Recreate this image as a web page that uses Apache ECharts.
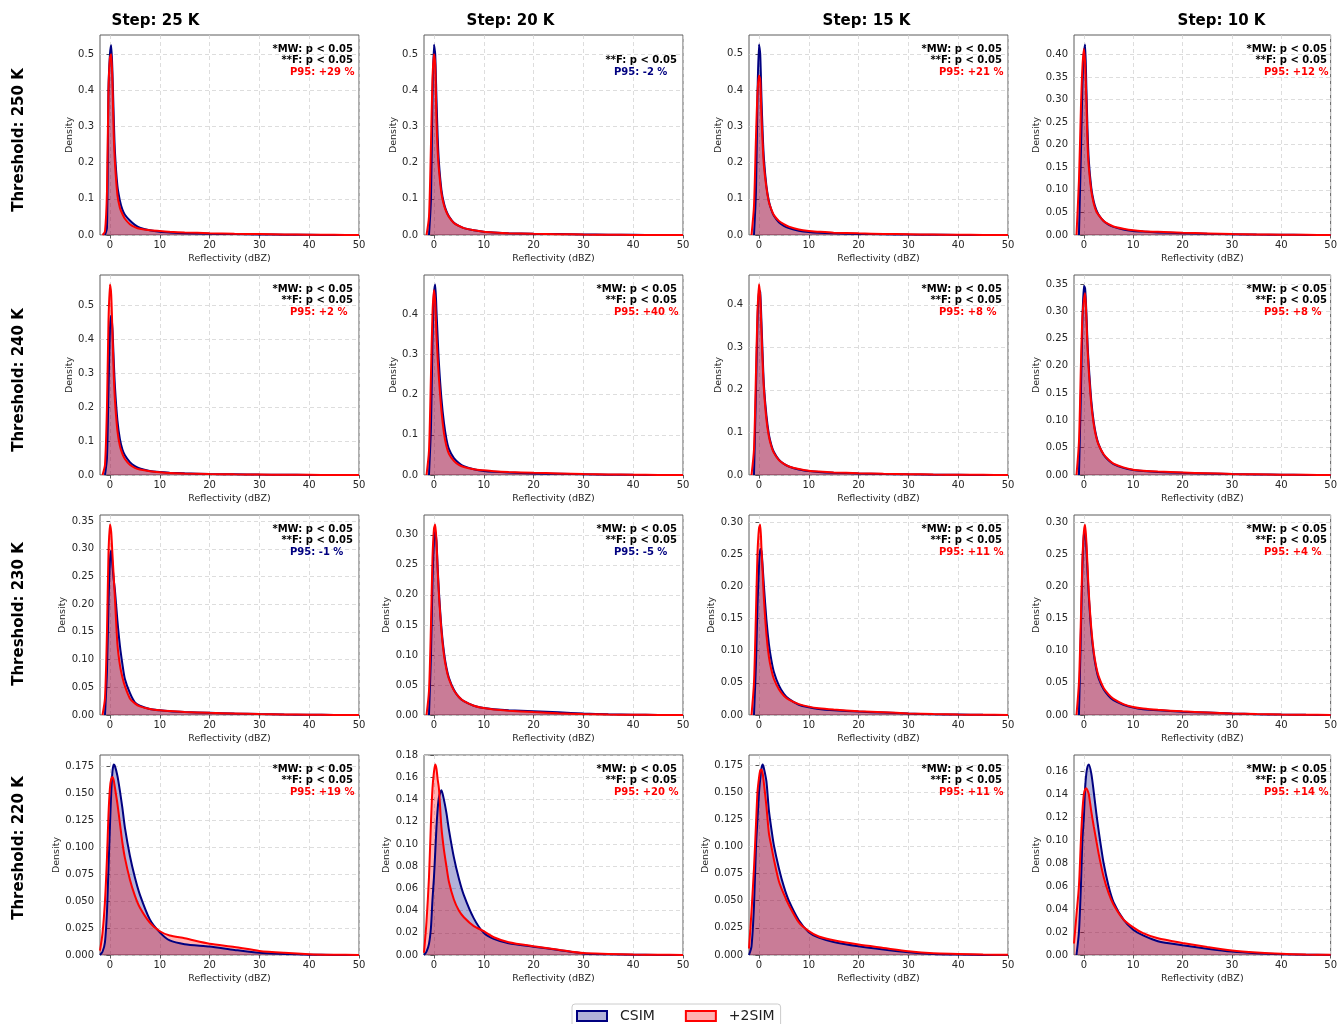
<!DOCTYPE html>
<html>
<head>
<meta charset="utf-8">
<script src="https://cdn.jsdelivr.net/npm/echarts@6/dist/echarts.min.js"></script>
<style>
  html, body { margin: 0; padding: 0; background: #ffffff; }
  #chart { width: 1340px; height: 1024px; }
</style>
</head>
<body>
<div id="chart"></div>
<script>
// Reflectivity sample points (dBZ) shared by every density curve
const reflectivity = [-2, -1.5, -1, -0.6, -0.3, 0, 0.25, 0.5, 0.75, 1, 1.5, 2, 2.5, 3, 4, 5, 6, 8, 10, 12, 15, 20, 25, 30, 35, 40, 45, 50];

const stepTitles = ['Step: 25 K', 'Step: 20 K', 'Step: 15 K', 'Step: 10 K'];
const thresholdTitles = ['Threshold: 250 K', 'Threshold: 240 K', 'Threshold: 230 K', 'Threshold: 220 K'];
const seriesNames = ['CSIM', '+2SIM'];
const xTicks = [0, 10, 20, 30, 40, 50];

// Threshold 250 K
const csim_250_25 = [null, null, 0, 0.02, 0.40, 0.50, 0.525, 0.45, 0.33, 0.23, 0.135, 0.095, 0.07, 0.056, 0.04, 0.028, 0.02, 0.013, 0.009, 0.007, 0.005, 0.0035, 0.0025, 0.0015, 0.0008, 0.0004, 0.0002, 0.0001];
const sim2_250_25 = [null, 0, 0.01, 0.12, 0.40, 0.49, 0.50, 0.42, 0.28, 0.20, 0.11, 0.075, 0.058, 0.045, 0.03, 0.022, 0.017, 0.013, 0.011, 0.009, 0.007, 0.005, 0.0035, 0.0025, 0.0015, 0.0008, 0.0004, 0.0002];
const csim_250_20 = [null, null, 0, 0.1, 0.38, 0.526, 0.50, 0.38, 0.27, 0.2, 0.125, 0.088, 0.066, 0.052, 0.034, 0.025, 0.019, 0.013, 0.009, 0.007, 0.005, 0.0035, 0.0025, 0.0015, 0.0008, 0.0004, 0.0002, 0.0001];
const sim2_250_20 = [null, 0, 0.05, 0.25, 0.43, 0.50, 0.47, 0.32, 0.23, 0.18, 0.115, 0.083, 0.063, 0.05, 0.033, 0.025, 0.019, 0.013, 0.009, 0.007, 0.005, 0.0034, 0.0024, 0.0014, 0.0007, 0.0003, 0.0001, 0.0001];
const csim_250_15 = [null, null, 0, 0.12, 0.38, 0.526, 0.5, 0.38, 0.28, 0.21, 0.135, 0.093, 0.069, 0.053, 0.035, 0.025, 0.019, 0.012, 0.008, 0.006, 0.0045, 0.003, 0.002, 0.0012, 0.0006, 0.0003, 0.0001, 0];
const sim2_250_15 = [null, 0, 0.08, 0.27, 0.39, 0.44, 0.43, 0.33, 0.25, 0.19, 0.13, 0.09, 0.07, 0.055, 0.039, 0.03, 0.023, 0.015, 0.011, 0.009, 0.0065, 0.0045, 0.003, 0.002, 0.0012, 0.0006, 0.0003, 0.0001];
const csim_250_10 = [null, null, 0, 0.18, 0.33, 0.40, 0.422, 0.33, 0.23, 0.165, 0.105, 0.074, 0.056, 0.045, 0.031, 0.023, 0.018, 0.012, 0.009, 0.0075, 0.0058, 0.004, 0.0028, 0.0018, 0.001, 0.0005, 0.0002, 0.0001];
const sim2_250_10 = [null, 0, 0.12, 0.28, 0.37, 0.412, 0.38, 0.3, 0.2, 0.15, 0.098, 0.07, 0.053, 0.044, 0.031, 0.024, 0.019, 0.014, 0.0104, 0.0085, 0.007, 0.005, 0.0035, 0.0022, 0.0013, 0.0007, 0.0003, 0.0001];

// Threshold 240 K
const csim_240_25 = [null, null, 0, 0.05, 0.25, 0.43, 0.47, 0.43, 0.34, 0.26, 0.16, 0.105, 0.075, 0.058, 0.038, 0.026, 0.019, 0.012, 0.0085, 0.0065, 0.0048, 0.003, 0.002, 0.0012, 0.0007, 0.0003, 0.0001, 0];
const sim2_240_25 = [null, 0, 0.03, 0.2, 0.45, 0.56, 0.53, 0.42, 0.3, 0.22, 0.13, 0.085, 0.062, 0.047, 0.03, 0.021, 0.016, 0.011, 0.008, 0.006, 0.0045, 0.003, 0.002, 0.0013, 0.0008, 0.0004, 0.0002, 0.0001];
const csim_240_20 = [null, null, 0, 0.12, 0.33, 0.45, 0.474, 0.41, 0.34, 0.277, 0.19, 0.13, 0.09, 0.065, 0.042, 0.03, 0.022, 0.0145, 0.01, 0.0078, 0.006, 0.004, 0.0028, 0.0017, 0.0009, 0.0004, 0.0002, 0.0001];
const sim2_240_20 = [null, 0, 0.06, 0.25, 0.4, 0.46, 0.43, 0.35, 0.29, 0.24, 0.16, 0.105, 0.072, 0.053, 0.035, 0.025, 0.02, 0.0145, 0.0117, 0.0095, 0.0075, 0.0055, 0.004, 0.0025, 0.0014, 0.0007, 0.0003, 0.0001];
const csim_240_15 = [null, null, 0, 0.2, 0.36, 0.435, 0.43, 0.36, 0.28, 0.21, 0.14, 0.095, 0.07, 0.054, 0.036, 0.026, 0.02, 0.013, 0.0093, 0.007, 0.0053, 0.0037, 0.0025, 0.0015, 0.0008, 0.0004, 0.0002, 0.0001];
const sim2_240_15 = [null, 0, 0.06, 0.24, 0.38, 0.448, 0.42, 0.34, 0.26, 0.2, 0.13, 0.09, 0.067, 0.052, 0.035, 0.026, 0.02, 0.014, 0.01, 0.008, 0.006, 0.0043, 0.003, 0.002, 0.0012, 0.0006, 0.0003, 0.0001];
const csim_240_10 = [null, null, 0, 0.15, 0.28, 0.347, 0.342, 0.3, 0.24, 0.2, 0.137, 0.097, 0.072, 0.056, 0.037, 0.027, 0.02, 0.013, 0.009, 0.0072, 0.0056, 0.004, 0.0028, 0.0017, 0.001, 0.0005, 0.0002, 0.0001];
const sim2_240_10 = [null, 0, 0.06, 0.2, 0.29, 0.32, 0.333, 0.29, 0.23, 0.19, 0.13, 0.093, 0.069, 0.055, 0.038, 0.028, 0.021, 0.014, 0.0098, 0.008, 0.0063, 0.0046, 0.0032, 0.002, 0.0012, 0.0006, 0.0003, 0.0001];

// Threshold 230 K
const csim_230_25 = [null, null, 0, 0.08, 0.2, 0.28, 0.297, 0.27, 0.245, 0.225, 0.17, 0.125, 0.092, 0.065, 0.04, 0.023, 0.017, 0.011, 0.0085, 0.0068, 0.0055, 0.004, 0.0027, 0.0016, 0.0009, 0.0004, 0.0002, 0.0001];
const sim2_230_25 = [null, 0, 0.03, 0.15, 0.29, 0.344, 0.33, 0.29, 0.25, 0.21, 0.128, 0.09, 0.068, 0.052, 0.03, 0.021, 0.0155, 0.011, 0.0085, 0.007, 0.0055, 0.004, 0.0028, 0.0017, 0.001, 0.0005, 0.0002, 0.0001];
const csim_230_20 = [null, null, 0, 0.1, 0.22, 0.29, 0.305, 0.29, 0.245, 0.205, 0.145, 0.105, 0.079, 0.062, 0.042, 0.03, 0.023, 0.0155, 0.0115, 0.0095, 0.0078, 0.0063, 0.0045, 0.0025, 0.0012, 0.0005, 0.0002, 0.0001];
const sim2_230_20 = [null, 0, 0.04, 0.15, 0.26, 0.31, 0.317, 0.29, 0.24, 0.2, 0.14, 0.1, 0.076, 0.06, 0.041, 0.03, 0.023, 0.0155, 0.0115, 0.009, 0.007, 0.0048, 0.003, 0.0016, 0.0008, 0.0004, 0.0002, 0.0001];
const csim_230_15 = [null, null, 0, 0.08, 0.17, 0.23, 0.258, 0.255, 0.23, 0.2, 0.148, 0.11, 0.085, 0.067, 0.046, 0.033, 0.025, 0.016, 0.012, 0.0095, 0.0075, 0.0053, 0.0037, 0.0022, 0.0012, 0.0006, 0.0002, 0.0001];
const sim2_230_15 = [null, 0, 0.05, 0.16, 0.25, 0.29, 0.296, 0.26, 0.22, 0.18, 0.125, 0.09, 0.07, 0.056, 0.04, 0.03, 0.024, 0.017, 0.013, 0.0105, 0.0085, 0.006, 0.0042, 0.0025, 0.0014, 0.0007, 0.0003, 0.0001];
const csim_230_10 = [null, null, 0, 0.13, 0.23, 0.28, 0.285, 0.26, 0.22, 0.185, 0.13, 0.095, 0.072, 0.057, 0.04, 0.03, 0.023, 0.016, 0.0115, 0.009, 0.0072, 0.0052, 0.0037, 0.0023, 0.0013, 0.0006, 0.0002, 0.0001];
const sim2_230_10 = [null, 0, 0.05, 0.15, 0.24, 0.285, 0.296, 0.27, 0.23, 0.19, 0.135, 0.098, 0.075, 0.06, 0.042, 0.032, 0.025, 0.017, 0.0125, 0.01, 0.008, 0.0057, 0.004, 0.0025, 0.0014, 0.0007, 0.0003, 0.0001];

// Threshold 220 K
const csim_220_25 = [0, 0.003, 0.012, 0.04, 0.08, 0.12, 0.15, 0.17, 0.1765, 0.175, 0.166, 0.152, 0.136, 0.118, 0.092, 0.072, 0.056, 0.033, 0.021, 0.0135, 0.01, 0.0078, 0.0047, 0.002, 0.001, 0.0003, 0.0001, 0];
const sim2_220_25 = [0.004, 0.02, 0.05, 0.09, 0.13, 0.155, 0.163, 0.165, 0.162, 0.155, 0.14, 0.122, 0.104, 0.09, 0.07, 0.055, 0.044, 0.03, 0.022, 0.018, 0.0155, 0.0105, 0.0075, 0.0038, 0.002, 0.0008, 0.0003, 0.0001];
const csim_220_20 = [0, 0.003, 0.01, 0.025, 0.05, 0.07, 0.092, 0.115, 0.132, 0.142, 0.1485, 0.14, 0.128, 0.113, 0.088, 0.069, 0.054, 0.033, 0.02, 0.0145, 0.0105, 0.0075, 0.0045, 0.0014, 0.0006, 0.0002, 0.0001, 0];
const sim2_220_20 = [0.002, 0.03, 0.07, 0.12, 0.15, 0.165, 0.1716, 0.168, 0.158, 0.15, 0.115, 0.095, 0.08, 0.066, 0.05, 0.04, 0.034, 0.026, 0.0215, 0.016, 0.0115, 0.0079, 0.0048, 0.0017, 0.001, 0.0004, 0.0002, 0.0001];
const csim_220_15 = [0, 0.008, 0.045, 0.1, 0.125, 0.149, 0.162, 0.172, 0.1755, 0.172, 0.16, 0.133, 0.116, 0.101, 0.08, 0.063, 0.05, 0.032, 0.021, 0.016, 0.012, 0.008, 0.005, 0.0025, 0.001, 0.0004, 0.0001, 0];
const sim2_220_15 = [0.006, 0.04, 0.08, 0.12, 0.15, 0.163, 0.17, 0.171, 0.167, 0.158, 0.137, 0.112, 0.1, 0.088, 0.068, 0.056, 0.046, 0.03, 0.022, 0.017, 0.0135, 0.0096, 0.0065, 0.0034, 0.0015, 0.001, 0.0004, 0.0002];
const csim_220_10 = [null, 0, 0.02, 0.06, 0.1, 0.12, 0.145, 0.158, 0.164, 0.1657, 0.158, 0.142, 0.124, 0.108, 0.08, 0.06, 0.046, 0.031, 0.022, 0.017, 0.012, 0.0085, 0.0055, 0.003, 0.0015, 0.0006, 0.0002, 0.0001];
const sim2_220_10 = [0.01, 0.035, 0.06, 0.1, 0.125, 0.14, 0.144, 0.145, 0.143, 0.14, 0.125, 0.112, 0.1, 0.088, 0.068, 0.054, 0.044, 0.031, 0.024, 0.019, 0.0145, 0.0105, 0.007, 0.004, 0.0022, 0.001, 0.0004, 0.0002];

// Panel order: rows = thresholds, columns = steps
const csimPanels = [
  [csim_250_25, csim_250_20, csim_250_15, csim_250_10],
  [csim_240_25, csim_240_20, csim_240_15, csim_240_10],
  [csim_230_25, csim_230_20, csim_230_15, csim_230_10],
  [csim_220_25, csim_220_20, csim_220_15, csim_220_10]
];
const sim2Panels = [
  [sim2_250_25, sim2_250_20, sim2_250_15, sim2_250_10],
  [sim2_240_25, sim2_240_20, sim2_240_15, sim2_240_10],
  [sim2_230_25, sim2_230_20, sim2_230_15, sim2_230_10],
  [sim2_220_25, sim2_220_20, sim2_220_15, sim2_220_10]
];

// Density axis upper limits and tick steps
const yAxisMax = [
  [0.553, 0.553, 0.552, 0.443],
  [0.588, 0.4975, 0.47, 0.3665],
  [0.361, 0.333, 0.311, 0.311],
  [0.1853, 0.1802, 0.1843, 0.174]
];
const yTickStep = [
  [0.1, 0.1, 0.1, 0.05],
  [0.1, 0.1, 0.1, 0.05],
  [0.05, 0.05, 0.05, 0.05],
  [0.025, 0.02, 0.025, 0.02]
];

// Significance tests and 95th-percentile change
const mwSignificant = [
  [true, false, true, true],
  [true, true, true, true],
  [true, true, true, true],
  [true, true, true, true]
];
const fSignificant = [
  [true, true, true, true],
  [true, true, true, true],
  [true, true, true, true],
  [true, true, true, true]
];
const p95Change = [
  [29, -2, 21, 12],
  [2, 40, 8, 8],
  [-1, -5, 11, 4],
  [19, 20, 11, 14]
];

// ---- layout ----
const FONT = '"DejaVu Sans", "Liberation Sans", sans-serif';
const COL_LEFT = [100, 424, 749, 1074];
const ROW_TOP = [35, 275, 515, 755];
const PANEL_W = 259;
const PANEL_H = 200;
const TITLE_X = [155.5, 510.5, 866.5, 1221.5];
const ROW_LABEL_Y = [140, 380, 614, 848];
const CSIM_COLOR = '#000080';
const SIM2_COLOR = '#ff0000';
const CSIM_FILL = 'rgba(0,0,128,0.3)';
const SIM2_FILL = 'rgba(255,0,0,0.3)';

function decimalsOf(step) {
  const s = String(step);
  return s.indexOf('.') < 0 ? 0 : s.length - s.indexOf('.') - 1;
}

function yTickValues(step, max) {
  const out = [];
  for (let k = 0; k * step <= max + 1e-9; k++) out.push(+(k * step).toFixed(6));
  return out;
}

const grids = [], xAxes = [], yAxes = [], series = [], graphics = [];

for (let r = 0; r < 4; r++) {
  for (let c = 0; c < 4; c++) {
    const idx = r * 4 + c;
    const step = yTickStep[r][c];
    const dec = decimalsOf(step);
    const labelW = 6.36 * (dec + 1) + 3.18;
    const yTicks = yTickValues(step, yAxisMax[r][c]);

    grids.push({
      left: COL_LEFT[c], top: ROW_TOP[r], width: PANEL_W, height: PANEL_H,
      show: true, borderColor: '#5c5c5c', borderWidth: 1, backgroundColor: '#ffffff'
    });

    xAxes.push({
      type: 'value', gridIndex: idx, min: -2, max: 50,
      minInterval: 10, maxInterval: 10,
      name: 'Reflectivity (dBZ)', nameLocation: 'middle', nameGap: 19,
      nameTextStyle: { fontFamily: FONT, fontSize: 9.5, color: '#262626' },
      axisLine: { show: false },
      axisTick: { show: true, length: 3.5, customValues: xTicks, lineStyle: { color: '#333333', width: 0.8 } },
      axisLabel: {
        margin: 5, fontFamily: FONT, fontSize: 10, color: '#262626',
        formatter: v => (xTicks.indexOf(v) >= 0 ? String(v) : '')
      },
      splitLine: { show: true, lineStyle: { type: [4, 3], color: '#d4d4d4', width: 0.8 } }
    });

    yAxes.push({
      type: 'value', gridIndex: idx, min: 0, max: yAxisMax[r][c], interval: step,
      name: 'Density', nameLocation: 'middle', nameGap: labelW + 10,
      nameTextStyle: { fontFamily: FONT, fontSize: 9.5, color: '#262626' },
      axisLine: { show: false },
      axisTick: { show: true, length: 3.5, customValues: yTicks, lineStyle: { color: '#333333', width: 0.8 } },
      axisLabel: {
        margin: 6, fontFamily: FONT, fontSize: 10, color: '#262626',
        formatter: v => {
          const k = v / step;
          return Math.abs(k - Math.round(k)) < 1e-6 ? v.toFixed(dec) : '';
        }
      },
      splitLine: { show: true, lineStyle: { type: [4, 3], color: '#d4d4d4', width: 0.8 } }
    });

    const curves = [
      { name: seriesNames[0], values: csimPanels[r][c], color: CSIM_COLOR, fill: CSIM_FILL },
      { name: seriesNames[1], values: sim2Panels[r][c], color: SIM2_COLOR, fill: SIM2_FILL }
    ];
    curves.forEach(cv => {
      series.push({
        type: 'line', name: cv.name, xAxisIndex: idx, yAxisIndex: idx,
        data: reflectivity.map((x, i) => [x, cv.values[i]]),
        showSymbol: false, symbol: 'none', smooth: 0.25, connectNulls: false,
        lineStyle: { color: cv.color, width: 2 },
        itemStyle: { color: cv.color },
        areaStyle: { color: cv.fill, opacity: 1, origin: 'start' },
        silent: true, animation: false
      });
    });

    // statistics box in the upper right corner
    const right = COL_LEFT[c] + PANEL_W - 6;
    const top = ROW_TOP[r];
    const statFont = 'bold 10px ' + FONT;
    if (mwSignificant[r][c]) {
      graphics.push({ type: 'text', z: 100, x: right, y: top + 14,
        style: { text: '*MW: p < 0.05', font: statFont, fill: '#000000', textAlign: 'right', textVerticalAlign: 'middle' } });
    }
    if (fSignificant[r][c]) {
      graphics.push({ type: 'text', z: 100, x: right, y: top + 25.5,
        style: { text: '**F: p < 0.05', font: statFont, fill: '#000000', textAlign: 'right', textVerticalAlign: 'middle' } });
    }
    const p = p95Change[r][c];
    graphics.push({ type: 'text', z: 100, x: COL_LEFT[c] + PANEL_W - 69, y: top + 37.5,
      style: { text: 'P95: ' + (p > 0 ? '+' : '') + p + ' %', font: statFont,
        fill: p >= 0 ? SIM2_COLOR : CSIM_COLOR, textAlign: 'left', textVerticalAlign: 'middle' } });
  }
}

stepTitles.forEach((t, c) => {
  graphics.push({ type: 'text', z: 100, x: TITLE_X[c], y: 21,
    style: { text: t, font: 'bold 15px ' + FONT, fill: '#000000', textAlign: 'center', textVerticalAlign: 'middle' } });
});
thresholdTitles.forEach((t, r) => {
  graphics.push({ type: 'text', z: 100, x: 19, y: ROW_LABEL_Y[r], rotation: Math.PI / 2,
    style: { text: t, font: 'bold 15px ' + FONT, fill: '#000000', textAlign: 'center', textVerticalAlign: 'middle' } });
});

const chart = echarts.init(document.getElementById('chart'), null, { renderer: 'canvas' });
chart.setOption({
  backgroundColor: '#ffffff',
  animation: false,
  grid: grids,
  xAxis: xAxes,
  yAxis: yAxes,
  series: series,
  legend: {
    top: 1004, left: 572,
    selectedMode: false,
    icon: 'rect', itemWidth: 30, itemHeight: 10, itemGap: 30,
    data: [
      { name: seriesNames[0], icon: 'rect', itemStyle: { color: CSIM_FILL, borderColor: CSIM_COLOR, borderWidth: 2 } },
      { name: seriesNames[1], icon: 'rect', itemStyle: { color: SIM2_FILL, borderColor: SIM2_COLOR, borderWidth: 2 } }
    ],
    textStyle: { fontFamily: FONT, fontSize: 14, color: '#222222', padding: [0, 0, 0, 8] },
    backgroundColor: '#ffffff', borderColor: '#cccccc', borderWidth: 1, borderRadius: 3,
    padding: [5, 6, 5, 4]
  },
  graphic: { elements: graphics }
});
</script>
</body>
</html>
